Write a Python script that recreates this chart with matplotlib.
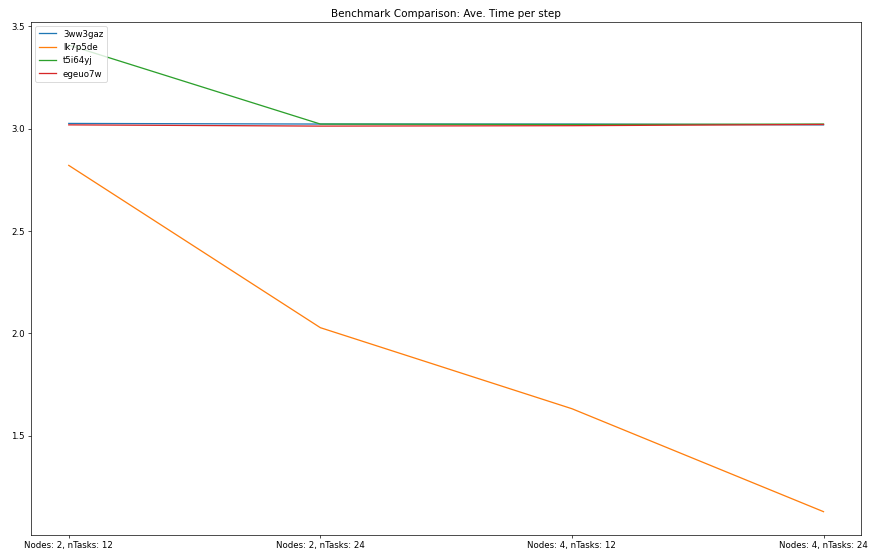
import matplotlib
matplotlib.use("Agg")
import matplotlib.pyplot as plt

# ---- Benchmark results (ave. time per step) ----
configs = ["Nodes: 2, nTasks: 12", "Nodes: 2, nTasks: 24",
           "Nodes: 4, nTasks: 12", "Nodes: 4, nTasks: 24"]

run_3ww3gaz = [3.025, 3.022, 3.022, 3.018]
run_lk7p5de = [2.820, 2.027, 1.631, 1.128]
run_t5i64yj = [3.408, 3.022, 3.020, 3.022]
run_egeuo7w = [3.018, 3.012, 3.014, 3.020]

runs = {
    "3ww3gaz": run_3ww3gaz,
    "lk7p5de": run_lk7p5de,
    "t5i64yj": run_t5i64yj,
    "egeuo7w": run_egeuo7w,
}

# 14x9 figure, saved at low dpi to get ~869x554
fig, ax = plt.subplots(figsize=(14.02, 8.94), dpi=62)
for name, vals in runs.items():
    ax.plot(configs, vals, label=name)

ax.set_title("Benchmark Comparison: Ave. Time per step")
ax.legend(loc="upper left")
fig.subplots_adjust(left=0.0357, right=0.9908, bottom=0.0343, top=0.9603)

plt.savefig("out.png", dpi=62)
